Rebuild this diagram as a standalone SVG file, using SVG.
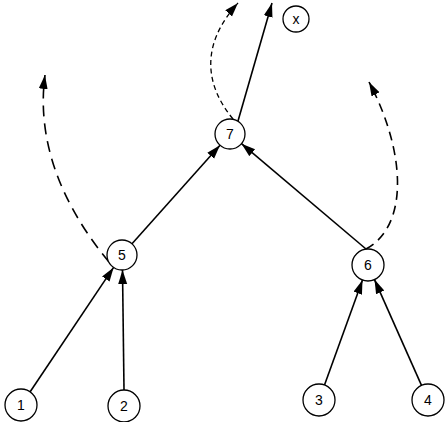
<svg xmlns="http://www.w3.org/2000/svg" width="445" height="422" viewBox="0 0 445 422">
<style>
.n circle{fill:#fff;stroke:#000;stroke-width:1.3}
.n text{font-family:"Liberation Sans",Arial,sans-serif;font-size:14px;text-anchor:middle;dominant-baseline:central;fill:#000}
.e{stroke:#000;stroke-width:1.6;fill:none;marker-end:url(#ah)}
.d1{stroke-dasharray:5 3.5;stroke-width:1.3}
.d2{stroke-dasharray:11 7}
.d3{stroke-dasharray:9 6}
</style>
<defs>
<marker id="ah" markerUnits="userSpaceOnUse" markerWidth="16" markerHeight="10" refX="14" refY="4.5" orient="auto">
<path d="M0,0 L14,4.5 L0,9 z" fill="#000"/>
</marker>
</defs>
<rect width="445" height="422" fill="#fff"/>
<g id="connectors">
<line class="e" x1="30" y1="392" x2="113.6" y2="267.4"/>
<line class="e" x1="124" y1="390" x2="122.5" y2="270"/>
<line class="e" x1="324.5" y1="385" x2="362.5" y2="280"/>
<line class="e" x1="421.5" y1="385.4" x2="374.5" y2="279.6"/>
<line class="e" x1="132" y1="243.8" x2="220" y2="145.2"/>
<line class="e" x1="366" y1="249" x2="241.5" y2="143.7"/>
<line class="e" x1="238" y1="121" x2="272" y2="3"/>
<path class="e d1" d="M233,119 C205,85 200,45 238,3"/>
<path class="e d2" d="M109,262 C70,215 35,150 45,75"/>
<path class="e d3" d="M366,249 C410,225 405,150 369,82"/>
</g>
<g id="node-x" class="n"><circle cx="296" cy="19" r="13"/><text x="296" y="19">x</text></g>
<g id="node-7" class="n"><circle cx="230" cy="134" r="15"/><text x="230" y="134">7</text></g>
<g id="node-5" class="n"><circle cx="122" cy="255" r="15"/><text x="122" y="255">5</text></g>
<g id="node-6" class="n"><circle cx="368" cy="265" r="16"/><text x="368" y="265">6</text></g>
<g id="node-1" class="n"><circle cx="21" cy="405" r="16"/><text x="21" y="405">1</text></g>
<g id="node-2" class="n"><circle cx="124" cy="406" r="16"/><text x="124" y="406">2</text></g>
<g id="node-3" class="n"><circle cx="319" cy="400" r="16"/><text x="319" y="400">3</text></g>
<g id="node-4" class="n"><circle cx="428" cy="400" r="16"/><text x="428" y="400">4</text></g>
</svg>
